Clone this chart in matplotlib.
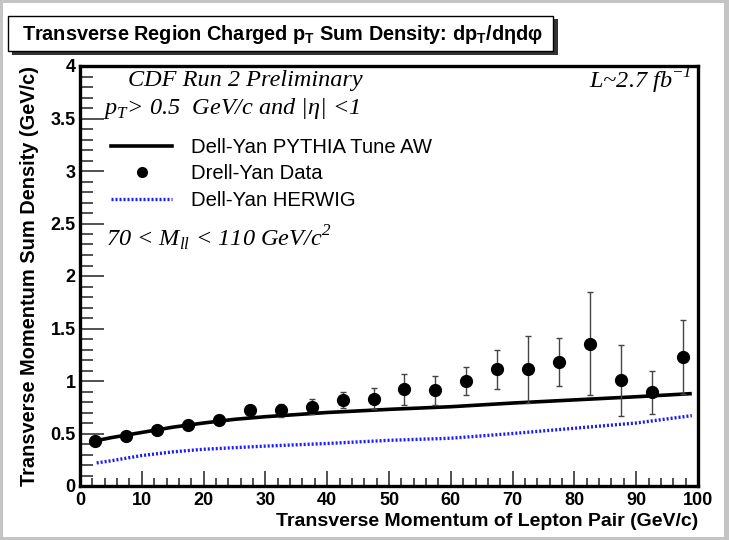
import matplotlib
matplotlib.use('Agg')
import matplotlib.pyplot as plt
from matplotlib.patches import Rectangle
from matplotlib.lines import Line2D
from matplotlib.ticker import MultipleLocator

# Drell-Yan data (bin centres, values, errors)
pt_bins = [2.5, 7.5, 12.5, 17.5, 22.5, 27.5, 32.5, 37.5, 42.5, 47.5,
           52.5, 57.5, 62.5, 67.5, 72.5, 77.5, 82.5, 87.5, 92.5, 97.5]
data_vals = [0.43, 0.48, 0.53, 0.58, 0.63, 0.72, 0.72, 0.755, 0.82, 0.83,
             0.92, 0.91, 1.00, 1.11, 1.11, 1.18, 1.355, 1.005, 0.895, 1.23]
data_errs = [0.01, 0.01, 0.01, 0.015, 0.02, 0.04, 0.06, 0.07, 0.08, 0.10,
             0.145, 0.14, 0.135, 0.185, 0.315, 0.225, 0.49, 0.34, 0.205, 0.35]

# PYTHIA Tune AW curve
pythia_x = [2.5, 5, 10, 15, 20, 25, 30, 40, 50, 60, 70, 80, 90, 99]
pythia_y = [0.43, 0.46, 0.51, 0.56, 0.60, 0.635, 0.66, 0.70, 0.73, 0.755, 0.79, 0.82, 0.85, 0.88]

# HERWIG curve
herwig_x = [2.7, 5, 10, 15, 20, 30, 40, 50, 60, 70, 80, 90, 99]
herwig_y = [0.22, 0.24, 0.29, 0.325, 0.35, 0.38, 0.405, 0.435, 0.455, 0.50, 0.55, 0.60, 0.67]

W, H = 729, 540
fig = plt.figure(figsize=(W / 100, H / 100), dpi=100, facecolor='#c4c4c4')
fig.patches.append(Rectangle((3 / W, 3 / H), 721 / W, 534 / H, transform=fig.transFigure,
                             facecolor='white', edgecolor='none', zorder=-10))

ax = fig.add_axes([80 / W, 1 - 486 / H, 618 / W, 420 / H])
ax.set_xlim(0, 100)
ax.set_ylim(0, 4)

ax.plot(pythia_x, pythia_y, color='black', lw=2.6, solid_capstyle='butt', zorder=3)
ax.plot(herwig_x, herwig_y, color='#1a1aff', lw=2.4, ls=(0, (0.6, 0.6)), zorder=3)
ax.errorbar(pt_bins, data_vals, yerr=data_errs, fmt='o', color='black', ms=8.5,
            ecolor='#444444', elinewidth=1.0, capsize=2.5, capthick=1.0, zorder=4)

for s in ax.spines.values():
    s.set_linewidth(2.4)
ax.xaxis.set_major_locator(MultipleLocator(10))
ax.xaxis.set_minor_locator(MultipleLocator(2))
ax.yaxis.set_major_locator(MultipleLocator(0.5))
ax.yaxis.set_minor_locator(MultipleLocator(0.1))
ax.tick_params(axis='both', which='both', direction='in', top=False, right=False,
               width=1.2, color='#333333')
ax.tick_params(axis='x', which='major', length=11, pad=4)
ax.tick_params(axis='x', which='minor', length=6)
ax.tick_params(axis='y', which='major', length=17, pad=3)
ax.tick_params(axis='y', which='minor', length=9)
ax.set_xticks(range(0, 101, 10))
ax.set_xticklabels([str(v) for v in range(0, 101, 10)], fontsize=13, fontweight='bold',
                   family='Liberation Sans')
yt = [0, 0.5, 1, 1.5, 2, 2.5, 3, 3.5, 4]
ax.set_yticks(yt)
ax.set_yticklabels(['0', '0.5', '1', '1.5', '2', '2.5', '3', '3.5', '4'], fontsize=13,
                   fontweight='bold', family='Liberation Sans')

ax.set_xlabel('Transverse Momentum of Lepton Pair (GeV/c)', fontsize=14, fontweight='bold',
              family='Liberation Sans', loc='right', labelpad=3)
ax.set_ylabel('Transverse Momentum Sum Density (GeV/c)', fontsize=14.4, fontweight='bold',
              family='Liberation Sans', loc='center', labelpad=8)

serif = dict(family='Liberation Serif', style='italic', fontsize=17.5, transform=ax.transAxes)
ax.text(0.078, 0.965, 'CDF Run 2 Preliminary', va='center', ha='left', **serif)
ax.text(0.038, 0.898, r'p$_\mathregular{T}$> 0.5  GeV/c and |η| <1', va='center', ha='left', **serif)
ax.text(0.042, 0.59, r'70 < M$_\mathregular{ll}$ < 110 GeV/c$^\mathregular{2}$', va='center',
        ha='left', **serif)
ax.text(0.99, 0.965, r'L~2.7 fb$^\mathregular{-1}$', va='center', ha='right', **serif)

handles = [Line2D([], [], color='black', lw=2.6),
           Line2D([], [], color='black', marker='o', ls='none', ms=7),
           Line2D([], [], color='#1a1aff', lw=2.4, ls=(0, (0.6, 0.6)))]
labels = ['Dell-Yan PYTHIA Tune AW', 'Drell-Yan Data', 'Dell-Yan HERWIG']
ax.legend(handles, labels, loc='upper left', bbox_to_anchor=(0.028, 0.863), frameon=False,
          handlelength=3.0, handletextpad=0.9, labelspacing=0.38, borderpad=0.2,
          prop={'family': 'Liberation Sans', 'size': 14.6})

# title box with shadow
fig.patches.append(Rectangle((12 / W, 1 - 55 / H), 546 / W, 36 / H, transform=fig.transFigure,
                             facecolor='#333333', edgecolor='none', zorder=5))
fig.patches.append(Rectangle((8 / W, 1 - 51 / H), 545 / W, 35 / H, transform=fig.transFigure,
                             facecolor='white', edgecolor='black', lw=1.0, zorder=6))
fig.text(22 / W, 1 - 34 / H, r'Transverse Region Charged p$_\mathregular{T}$ Sum Density: dp$_\mathregular{T}$/dηdφ',
         fontsize=14.3, fontweight='bold', family='Liberation Sans', va='center', ha='left', zorder=7)

fig.savefig('out.png', dpi=100, facecolor=fig.get_facecolor())
